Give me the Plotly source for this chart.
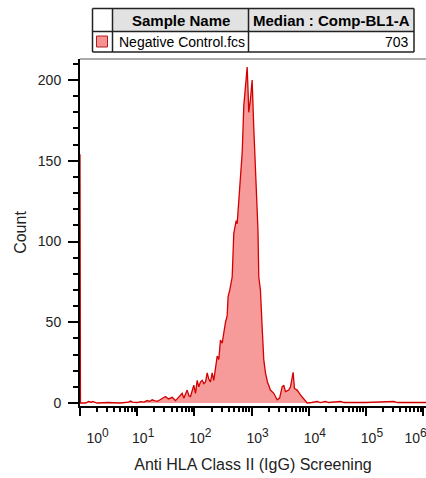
import plotly.graph_objects as go

# ---- data (x as decade exponents, y as counts) ----
log_x = [0.0, 0.008, 0.1, 0.15, 0.2, 0.22, 0.3, 0.5, 0.7, 0.85, 0.88, 0.92, 1.0, 1.06, 1.12,
         1.175, 1.22, 1.262, 1.3, 1.35, 1.4, 1.437, 1.495, 1.547, 1.612, 1.67, 1.727, 1.787,
         1.815, 1.874, 1.905, 1.932, 1.99, 2.019, 2.049, 2.077, 2.105, 2.136, 2.165, 2.194,
         2.224, 2.25, 2.281, 2.311, 2.339, 2.37, 2.399, 2.427, 2.456, 2.486, 2.514, 2.544,
         2.573, 2.59, 2.619, 2.661, 2.689, 2.731, 2.748, 2.776, 2.805, 2.836, 2.864, 2.893,
         2.923, 2.94, 2.951, 2.98, 3.01, 3.038, 3.068, 3.098, 3.112, 3.126, 3.142, 3.155,
         3.185, 3.2, 3.213, 3.243, 3.278, 3.33, 3.388, 3.448, 3.49, 3.535, 3.563, 3.593,
         3.65, 3.68, 3.727, 3.75, 3.797, 3.855, 3.907, 3.972, 4.05, 4.147, 4.2, 4.29, 4.35,
         4.554, 4.62, 5.0, 5.486, 5.55, 6.05]
counts = [154, 0, 0, 1, 0.5, 1, 0, 0.3, 0, 0.5, 1.2, 0.5, 0.3, 0.8, 0.5,
          1.5, 1, 2, 1.5, 1, 2, 3, 4, 2.5, 3.5, 1.5, 4, 6,
          3, 8, 4.5, 4, 11, 6, 14, 10, 13, 14, 12, 13,
          18.6, 15, 13, 18.6, 14, 22, 29, 27, 39, 37, 45, 50,
          54, 66, 70, 78, 105, 113, 111, 126, 143, 155, 184, 196,
          208, 192, 180, 188, 200, 171, 148, 124, 107, 78, 74, 70,
          47, 39, 27, 18.6, 13, 8, 6, 2, 3, 10, 11, 7,
          8, 10, 19, 9, 8, 5, 2.5, 0, 0.3, 1, 0.3, 1, 0.3,
          1, 0.3, 0.3, 1, 0.3, 0.3]

tick_exps = [0, 1, 2, 3, 4, 5, 6]
tick_bases = ["10"] * 7
tick_powers = ["0", "1", "2", "3", "4", "5", "6"]
y_ticks = [0, 50, 100, 150, 200]

sample_name = "Negative Control.fcs"
median_value = "703"
col_headers = ["Sample Name", "Median : Comp-BL1-A"]

x_title = "Anti HLA Class II (IgG) Screening"
y_title = "Count"

# ---- layout geometry ----
W, H = 426, 478
L, R, T, B = 80, 0, 59, 72
FONT = "Liberation Sans, Arial, sans-serif"


def px(x):
    return (x - L) / (W - L - R)


def py(y):
    return (H - B - y) / (H - T - B)


x_vals = [10 ** e for e in log_x]
tick_vals = [10 ** e for e in tick_exps]
nb = "\u00a0"
tick_text = [b + '<sup><span style="font-size:12px">' + p + "</span></sup>"
             for b, p in zip(tick_bases, tick_powers)]
tick_text[0] = nb * 6 + tick_text[0]
tick_text[-1] = tick_text[-1] + nb * 7

fig = go.Figure()
fig.add_trace(go.Scatter(
    x=x_vals, y=counts, mode="lines", fill="tozeroy",
    line=dict(color="#D40000", width=1.3),
    fillcolor="rgba(245,140,140,0.88)",
    hoverinfo="skip", showlegend=False,
))

shapes = []
# top frame line of plot area
shapes.append(dict(type="line", xref="paper", yref="paper", x0=0, x1=1, y0=1, y1=1,
                   line=dict(color="#555555", width=1)))

# table geometry (pixels)
tx0, tx1, tx2, tx3 = 92.5, 112.5, 248.5, 414
ty0, ty1, ty2 = 8.5, 31.5, 52
for a, b in [(tx1, tx2), (tx2, tx3)]:
    shapes.append(dict(type="rect", xref="paper", yref="paper",
                       x0=px(a), x1=px(b), y0=py(ty1), y1=py(ty0),
                       fillcolor="#E2E2E2", line=dict(width=0), layer="below"))
for xx in [tx0, tx1, tx2, tx3]:
    shapes.append(dict(type="line", xref="paper", yref="paper",
                       x0=px(xx), x1=px(xx), y0=py(ty2), y1=py(ty0),
                       line=dict(color="#222222", width=1.5)))
for yy in [ty0, ty1, ty2]:
    shapes.append(dict(type="line", xref="paper", yref="paper",
                       x0=px(tx0), x1=px(tx3), y0=py(yy), y1=py(yy),
                       line=dict(color="#222222", width=1.5)))
shapes.append(dict(type="rect", xref="paper", yref="paper",
                   x0=px(96.5), x1=px(107.5), y0=py(47), y1=py(36),
                   fillcolor="rgba(245,140,140,0.95)", line=dict(color="#B02020", width=1)))

annotations = [
    dict(text="<b>" + col_headers[0] + "</b>", x=px((tx1 + tx2) / 2), y=py((ty0 + ty1) / 2),
         xref="paper", yref="paper", showarrow=False, xanchor="center", yanchor="middle",
         font=dict(family=FONT, size=15, color="#000000")),
    dict(text="<b>" + col_headers[1] + "</b>", x=px((tx2 + tx3) / 2), y=py((ty0 + ty1) / 2),
         xref="paper", yref="paper", showarrow=False, xanchor="center", yanchor="middle",
         font=dict(family=FONT, size=15, color="#000000")),
    dict(text=sample_name, x=px(tx1 + 4), y=py((ty1 + ty2) / 2),
         xref="paper", yref="paper", showarrow=False, xanchor="left", yanchor="middle",
         font=dict(family=FONT, size=14, color="#000000")),
    dict(text=median_value, x=px(tx3 - 3), y=py((ty1 + ty2) / 2),
         xref="paper", yref="paper", showarrow=False, xanchor="right", yanchor="middle",
         font=dict(family=FONT, size=14, color="#000000")),
]

fig.update_layout(
    width=W, height=H,
    margin=dict(l=L, r=R, t=T, b=B, pad=0, autoexpand=False),
    paper_bgcolor="white", plot_bgcolor="white",
    font=dict(family=FONT, color="#222222"),
    shapes=shapes, annotations=annotations,
    xaxis=dict(
        type="log", range=[0, 6.05], automargin=False,
        tickmode="array", tickvals=tick_vals, ticktext=tick_text,
        ticks="outside", ticklen=8, tickwidth=2, tickcolor="black",
        minor=dict(ticks="outside", ticklen=4, tickwidth=1.5, tickcolor="black", dtick="D1"),
        showline=True, linecolor="black", linewidth=2,
        showgrid=False, zeroline=False,
        tickfont=dict(family=FONT, size=14, color="#222222"),
        ticklabelshift=6, ticklabelstandoff=10, ticklabeloverflow="allow",
        title=dict(text=x_title, font=dict(family=FONT, size=16, color="#222222"), standoff=14),
    ),
    yaxis=dict(
        range=[-1.86, 213], automargin=False,
        tickmode="array", tickvals=y_ticks,
        ticks="outside", ticklen=10, tickwidth=2, tickcolor="black",
        minor=dict(ticks="outside", ticklen=5, tickwidth=1.5, tickcolor="black", dtick=10),
        showline=True, linecolor="black", linewidth=2,
        showgrid=False, zeroline=False,
        tickfont=dict(family=FONT, size=14, color="#222222"),
        ticklabelstandoff=4,
        title=dict(text=y_title, font=dict(family=FONT, size=16, color="#222222"), standoff=7),
    ),
)

fig.write_html("out.html")
